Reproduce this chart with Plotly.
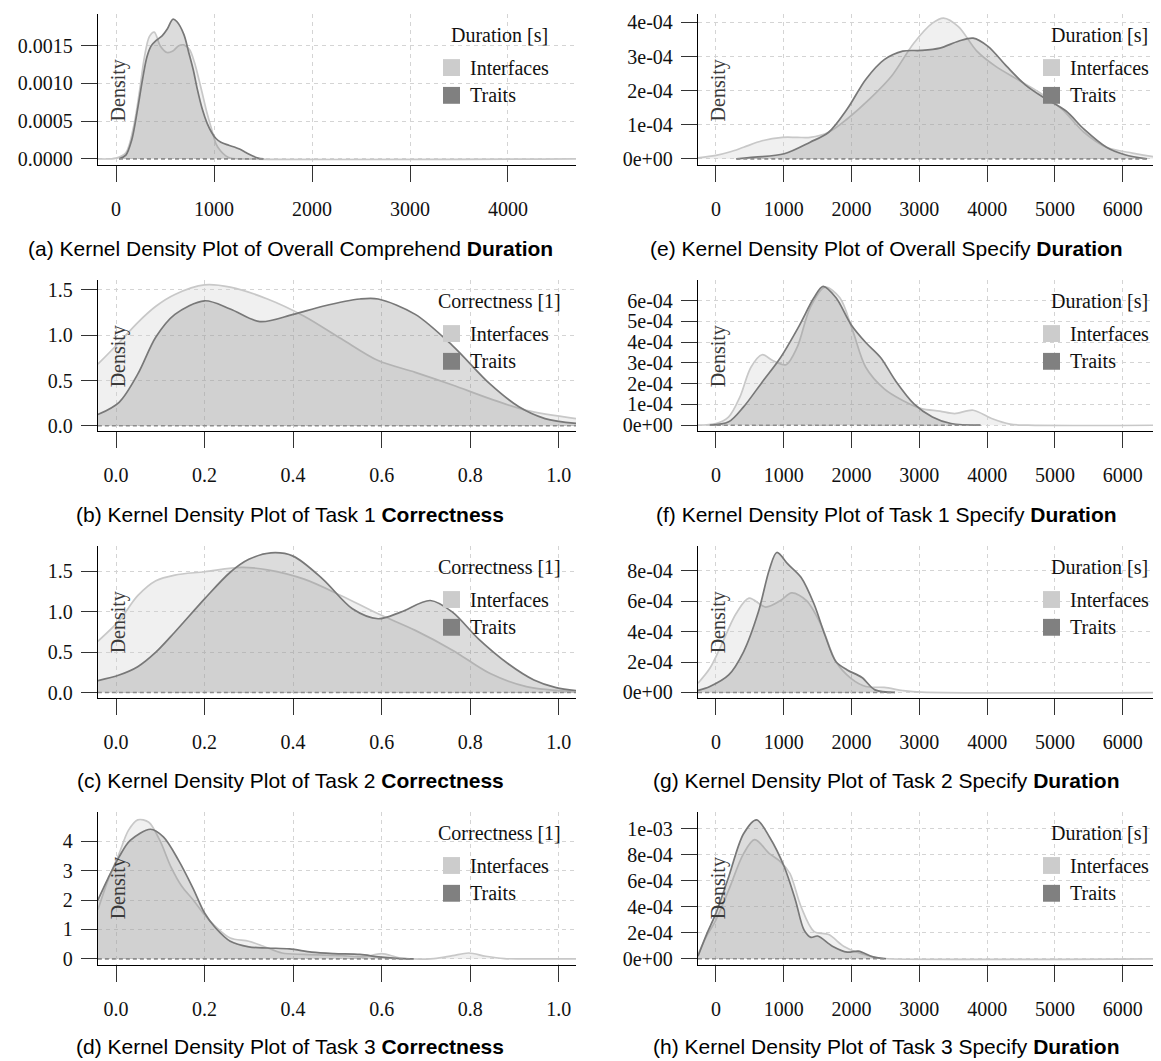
import plotly.graph_objects as go

W, H = 1161, 1061

# ---------------- data ----------------
# (a) Overall Comprehend Duration
a_int_x = [-184, 0, 100, 183, 240, 290, 340, 390, 450, 520, 580, 640, 692, 750, 800, 850, 880, 930, 976, 1020, 1070, 1120, 1165, 1250, 4694]
a_int_y = [0, 0.00001, 0.00008, 0.00045, 0.0009, 0.00135, 0.00162, 0.00168, 0.0015, 0.00141, 0.00143, 0.0015, 0.00151, 0.00145, 0.00128, 0.00103, 0.00087, 0.0006, 0.00039, 0.0002, 0.0001, 0.00004, 0.00001, 0, 0]
a_tra_x = [30, 100, 160, 220, 270, 315, 360, 410, 470, 523, 580, 620, 692, 740, 788, 830, 880, 930, 976, 1020, 1070, 1150, 1220, 1260, 1330, 1390, 1450, 1505]
a_tra_y = [0, 0.00005, 0.00025, 0.00066, 0.00105, 0.00135, 0.0015, 0.00157, 0.00163, 0.00172, 0.00185, 0.00182, 0.00165, 0.00142, 0.00118, 0.00092, 0.00066, 0.00047, 0.00035, 0.00027, 0.00022, 0.00018, 0.00015, 0.00013, 0.00008, 0.00004, 0.00001, 0]

# (b) Task 1 Correctness
b_int_x = [-0.041, 0.007, 0.049, 0.09, 0.133, 0.2, 0.258, 0.342, 0.425, 0.509, 0.592, 0.676, 0.76, 0.844, 0.927, 1.039]
b_int_y = [0.68, 0.92, 1.14, 1.32, 1.45, 1.555, 1.53, 1.40, 1.21, 0.96, 0.72, 0.59, 0.45, 0.30, 0.17, 0.08]
b_tra_x = [-0.041, 0.007, 0.049, 0.09, 0.133, 0.2, 0.258, 0.325, 0.4, 0.467, 0.551, 0.592, 0.676, 0.76, 0.844, 0.91, 0.969, 1.039]
b_tra_y = [0.124, 0.26, 0.57, 0.98, 1.23, 1.38, 1.29, 1.15, 1.23, 1.32, 1.40, 1.40, 1.23, 0.885, 0.465, 0.21, 0.08, 0.026]

# (c) Task 2 Correctness
c_int_x = [-0.041, 0.007, 0.049, 0.09, 0.133, 0.2, 0.283, 0.342, 0.425, 0.509, 0.592, 0.676, 0.76, 0.844, 0.927, 1.039]
c_int_y = [0.635, 0.89, 1.20, 1.385, 1.455, 1.496, 1.55, 1.52, 1.405, 1.20, 0.975, 0.77, 0.525, 0.238, 0.074, 0.012]
c_tra_x = [-0.041, 0.007, 0.049, 0.09, 0.133, 0.2, 0.258, 0.30, 0.35, 0.40, 0.467, 0.534, 0.592, 0.643, 0.71, 0.76, 0.818, 0.885, 0.944, 0.994, 1.039]
c_tra_y = [0.148, 0.217, 0.32, 0.50, 0.75, 1.16, 1.49, 1.65, 1.73, 1.69, 1.405, 1.037, 0.914, 0.996, 1.14, 0.996, 0.668, 0.36, 0.156, 0.061, 0.025]

# (d) Task 3 Correctness
d_int_x = [-0.041, -0.018, 0.007, 0.028, 0.049, 0.074, 0.099, 0.124, 0.149, 0.174, 0.2, 0.225, 0.258, 0.30, 0.333, 0.375, 0.425, 0.509, 0.559, 0.60, 0.643, 0.718, 0.76, 0.797, 0.835, 0.877, 0.92, 1.039]
d_int_y = [1.67, 2.68, 3.58, 4.37, 4.73, 4.65, 4.03, 3.13, 2.46, 2.01, 1.50, 1.10, 0.71, 0.60, 0.43, 0.20, 0.15, 0.11, 0.07, 0.18, 0.03, 0.01, 0.11, 0.20, 0.09, 0.01, 0, 0]
d_tra_x = [-0.041, -0.018, 0.007, 0.032, 0.078, 0.107, 0.141, 0.174, 0.2, 0.225, 0.258, 0.30, 0.342, 0.392, 0.442, 0.492, 0.551, 0.593, 0.634, 0.672]
d_tra_y = [2.0, 2.74, 3.47, 4.03, 4.41, 4.15, 3.36, 2.40, 1.56, 1.05, 0.60, 0.41, 0.37, 0.34, 0.23, 0.18, 0.15, 0.07, 0.02, 0]

# (e) Overall Specify Duration (density in 1e-4)
e_int_x = [-265, 0, 200, 407, 680, 980, 1200, 1389, 1662, 1935, 2264, 2591, 2920, 3192, 3357, 3575, 3848, 4121, 4448, 4777, 5103, 5428, 5760, 6142, 6519, 6667]
e_int_y = [0.03, 0.1, 0.2, 0.34, 0.53, 0.63, 0.63, 0.63, 0.78, 1.17, 1.75, 2.43, 3.4, 3.98, 4.13, 3.88, 3.16, 2.72, 2.33, 1.94, 1.46, 0.78, 0.34, 0.17, 0.05, 0.03]
e_tra_x = [300, 571, 1007, 1389, 1662, 1935, 2209, 2482, 2755, 3028, 3302, 3575, 3793, 4012, 4285, 4558, 4832, 5159, 5428, 5760, 6033, 6357]
e_tra_y = [0, 0.05, 0.15, 0.49, 0.78, 1.46, 2.33, 2.91, 3.16, 3.18, 3.25, 3.45, 3.54, 3.3, 2.72, 2.18, 1.8, 1.41, 0.87, 0.34, 0.12, 0]

# (f) Task 1 Specify Duration (1e-4)
f_int_x = [-265, 0, 188, 352, 516, 680, 843, 1033, 1196, 1389, 1608, 1827, 2018, 2209, 2482, 2755, 3028, 3302, 3520, 3793, 4066, 4336, 4600, 6667]
f_int_y = [0, 0.08, 0.4, 1.35, 2.79, 3.39, 3.1, 2.91, 3.74, 5.65, 6.64, 6.13, 4.54, 2.79, 1.75, 1.19, 0.8, 0.68, 0.56, 0.72, 0.32, 0.05, 0, 0]
f_tra_x = [-90, 188, 407, 680, 953, 1225, 1445, 1580, 1771, 1991, 2209, 2428, 2646, 2920, 3192, 3466, 3903]
f_tra_y = [0, 0.16, 0.88, 2.07, 3.26, 4.77, 6.13, 6.68, 6.13, 4.85, 3.98, 3.26, 2.15, 1.03, 0.4, 0.08, 0]

# (g) Task 2 Specify Duration (1e-4)
g_int_x = [-265, -90, 78, 295, 487, 734, 953, 1117, 1335, 1554, 1770, 1991, 2209, 2482, 2755, 3028, 6667]
g_int_y = [0.61, 1.59, 3.1, 5.17, 6.2, 5.61, 6.04, 6.54, 6.04, 4.41, 2.02, 0.93, 0.39, 0.33, 0.13, 0.02, 0]
g_tra_x = [-265, -90, 188, 407, 625, 789, 898, 1062, 1254, 1445, 1608, 1770, 1936, 2153, 2345, 2640]
g_tra_y = [0.13, 0.39, 1.15, 2.67, 5.28, 8.1, 9.2, 8.43, 7.57, 5.83, 3.76, 2.02, 1.48, 0.98, 0.17, 0]

# (h) Task 3 Specify Duration (1e-4)
h_int_x = [-265, -140, 0, 188, 407, 571, 789, 953, 1090, 1254, 1445, 1662, 1882, 2100, 2373, 2537, 6667]
h_int_y = [0.33, 1.73, 3.0, 5.29, 8.09, 9.16, 8.09, 7.46, 6.57, 4.02, 2.11, 1.86, 0.97, 0.46, 0.08, 0, 0]
h_tra_x = [-265, -140, 0, 188, 407, 598, 789, 1007, 1171, 1300, 1400, 1499, 1717, 1936, 2100, 2318, 2507]
h_tra_y = [0.2, 1.86, 3.51, 6.31, 9.62, 10.69, 9.37, 7.08, 4.53, 2.2, 1.65, 1.75, 0.97, 0.51, 0.59, 0.15, 0]

# tick labels
dur_left_ticks = [0, 1000, 2000, 3000, 4000]
dur_right_ticks = [0, 1000, 2000, 3000, 4000, 5000, 6000]
corr_ticks = [0.0, 0.2, 0.4, 0.6, 0.8, 1.0]
corr_ticktext = ["0.0", "0.2", "0.4", "0.6", "0.8", "1.0"]
a_yticks = [0, 0.0005, 0.0010, 0.0015]
a_yticktext = ["0.0000", "0.0005", "0.0010", "0.0015"]
bc_yticks = [0, 0.5, 1.0, 1.5]
bc_yticktext = ["0.0", "0.5", "1.0", "1.5"]
d_yticks = [0, 1, 2, 3, 4]
d_yticktext = ["0", "1", "2", "3", "4"]
e_yticks = [0, 1e-4, 2e-4, 3e-4, 4e-4]
e_yticktext = ["0e+00", "1e-04", "2e-04", "3e-04", "4e-04"]
f_yticks = [0, 1e-4, 2e-4, 3e-4, 4e-4, 5e-4, 6e-4]
f_yticktext = ["0e+00", "1e-04", "2e-04", "3e-04", "4e-04", "5e-04", "6e-04"]
g_yticks = [0, 2e-4, 4e-4, 6e-4, 8e-4]
g_yticktext = ["0e+00", "2e-04", "4e-04", "6e-04", "8e-04"]
h_yticks = [0, 2e-4, 4e-4, 6e-4, 8e-4, 1e-3]
h_yticktext = ["0e+00", "2e-04", "4e-04", "6e-04", "8e-04", "1e-03"]

series_names = ["Interfaces", "Traits"]
captions = [
    "(a) Kernel Density Plot of Overall Comprehend <b>Duration</b>",
    "(b) Kernel Density Plot of Task 1 <b>Correctness</b>",
    "(c) Kernel Density Plot of Task 2 <b>Correctness</b>",
    "(d) Kernel Density Plot of Task 3 <b>Correctness</b>",
    "(e) Kernel Density Plot of Overall Specify <b>Duration</b>",
    "(f) Kernel Density Plot of Task 1 Specify <b>Duration</b>",
    "(g) Kernel Density Plot of Task 2 Specify <b>Duration</b>",
    "(h) Kernel Density Plot of Task 3 Specify <b>Duration</b>",
]

E4 = 1e-4
panels = [
    dict(ix=a_int_x, iy=a_int_y, tx=a_tra_x, ty=a_tra_y, sc=1, col=0, row=0,
         xr=[-184, 4694], yr=[-0.000079, 0.00192], xt=dur_left_ticks, xtt=[str(v) for v in dur_left_ticks],
         yt=a_yticks, ytt=a_yticktext, leg="Duration [s]"),
    dict(ix=b_int_x, iy=b_int_y, tx=b_tra_x, ty=b_tra_y, sc=1, col=0, row=1,
         xr=[-0.0407, 1.039], yr=[-0.055, 1.61], xt=corr_ticks, xtt=corr_ticktext,
         yt=bc_yticks, ytt=bc_yticktext, leg="Correctness [1]"),
    dict(ix=c_int_x, iy=c_int_y, tx=c_tra_x, ty=c_tra_y, sc=1, col=0, row=2,
         xr=[-0.0407, 1.039], yr=[-0.065, 1.816], xt=corr_ticks, xtt=corr_ticktext,
         yt=bc_yticks, ytt=bc_yticktext, leg="Correctness [1]"),
    dict(ix=d_int_x, iy=d_int_y, tx=d_tra_x, ty=d_tra_y, sc=1, col=0, row=3,
         xr=[-0.0407, 1.039], yr=[-0.2, 5.0], xt=corr_ticks, xtt=corr_ticktext,
         yt=d_yticks, ytt=d_yticktext, leg="Correctness [1]"),
    dict(ix=e_int_x, iy=e_int_y, tx=e_tra_x, ty=e_tra_y, sc=E4, col=1, row=0,
         xr=[-265, 6667], yr=[-0.175e-4, 4.25e-4], xt=dur_right_ticks, xtt=[str(v) for v in dur_right_ticks],
         yt=e_yticks, ytt=e_yticktext, leg="Duration [s]"),
    dict(ix=f_int_x, iy=f_int_y, tx=f_tra_x, ty=f_tra_y, sc=E4, col=1, row=1,
         xr=[-265, 6667], yr=[-0.27e-4, 6.99e-4], xt=dur_right_ticks, xtt=[str(v) for v in dur_right_ticks],
         yt=f_yticks, ytt=f_yticktext, leg="Duration [s]"),
    dict(ix=g_int_x, iy=g_int_y, tx=g_tra_x, ty=g_tra_y, sc=E4, col=1, row=2,
         xr=[-265, 6667], yr=[-0.35e-4, 9.63e-4], xt=dur_right_ticks, xtt=[str(v) for v in dur_right_ticks],
         yt=g_yticks, ytt=g_yticktext, leg="Duration [s]"),
    dict(ix=h_int_x, iy=h_int_y, tx=h_tra_x, ty=h_tra_y, sc=E4, col=1, row=3,
         xr=[-265, 6667], yr=[-0.46e-4, 11.3e-4], xt=dur_right_ticks, xtt=[str(v) for v in dur_right_ticks],
         yt=h_yticks, ytt=h_yticktext, leg="Duration [s]"),
]

# ---------------- layout geometry (pixels) ----------------
COL_X = [(90, 568), (690, 1160)]
ROW_Y = [(4, 156), (272, 424), (540, 693), (808, 962)]
CAP_CX = [282, 878]
LEG_CX = [491, 1091]

SERIF = "Liberation Serif, Times New Roman, serif"
SANS = "Liberation Sans, Arial, sans-serif"

INT_LINE = "#c8c8c8"
TRA_LINE = "#787878"
INT_FILL = "rgba(204,204,204,0.30)"
TRA_FILL = "rgba(120,120,120,0.26)"
INT_KEY = "#cccccc"
TRA_KEY = "#808080"


def px(xp):
    return xp / W


def py(yp):
    return 1 - yp / H


fig = go.Figure()
layout_axes = {}
annotations = []
shapes = []

for i, p in enumerate(panels):
    k = i + 1
    xa = "x" if k == 1 else f"x{k}"
    ya = "y" if k == 1 else f"y{k}"
    x0, x1 = COL_X[p["col"]]
    y0, y1 = ROW_Y[p["row"]]
    sc = p["sc"]
    iy = [v * sc for v in p["iy"]]
    ty = [v * sc for v in p["ty"]]

    fig.add_trace(go.Scatter(
        x=p["ix"], y=iy, xaxis=xa, yaxis=ya, mode="lines", name=series_names[0],
        line=dict(color=INT_LINE, width=1.7, shape="spline", smoothing=0.9),
        fill="tozeroy", fillcolor=INT_FILL, showlegend=False, hoverinfo="skip"))
    fig.add_trace(go.Scatter(
        x=p["tx"], y=ty, xaxis=xa, yaxis=ya, mode="lines", name=series_names[1],
        line=dict(color=TRA_LINE, width=1.7, shape="spline", smoothing=0.9),
        fill="tozeroy", fillcolor=TRA_FILL, showlegend=False, hoverinfo="skip"))
    # dashed baseline of the Traits density over its support
    fig.add_trace(go.Scatter(
        x=[p["tx"][0], p["tx"][-1]], y=[0, 0], xaxis=xa, yaxis=ya, mode="lines",
        line=dict(color="#8c8c8c", width=1.6, dash="4px,3px"),
        showlegend=False, hoverinfo="skip"))

    common = dict(
        showline=True, linecolor="#000000", linewidth=1.4,
        ticks="outside", ticklen=16, tickwidth=1.4, tickcolor="#333333",
        showgrid=True, gridcolor="#d4d4d4", gridwidth=1, griddash="4px,4px",
        zeroline=False, tickfont=dict(family=SERIF, size=20, color="#111111"),
        fixedrange=True,
    )
    xkey = "xaxis" if k == 1 else f"xaxis{k}"
    ykey = "yaxis" if k == 1 else f"yaxis{k}"
    layout_axes[xkey] = dict(common, domain=[px(x0), px(x1)], anchor=ya, range=p["xr"],
                             tickmode="array", tickvals=p["xt"], ticktext=p["xtt"],
                             ticklabelstandoff=10)
    layout_axes[ykey] = dict(common, domain=[py(y1), py(y0)], anchor=xa, range=p["yr"],
                             tickmode="array", tickvals=p["yt"], ticktext=p["ytt"],
                             ticklabelstandoff=4)

    # "Density" label inside the panel
    annotations.append(dict(
        text="Density", xref="paper", yref="paper", x=px(x0 + 20), y=py(y0 + 77),
        xanchor="center", yanchor="middle", textangle=-90, showarrow=False,
        font=dict(family=SERIF, size=20, color="#3a3a3a")))

    # legend (title, keys, labels)
    cx = LEG_CX[p["col"]]
    annotations.append(dict(
        text=p["leg"], xref="paper", yref="paper", x=px(cx), y=py(y0 + 21),
        xanchor="center", yanchor="middle", showarrow=False,
        font=dict(family=SERIF, size=20, color="#111111")))
    for j, (nm, col) in enumerate(zip(series_names, [INT_KEY, TRA_KEY])):
        yc = y0 + 54 + 28 * j
        shapes.append(dict(type="rect", xref="paper", yref="paper",
                           x0=px(cx - 56), x1=px(cx - 39), y0=py(yc + 8.5), y1=py(yc - 8.5),
                           fillcolor=col, line=dict(width=0), layer="above"))
        annotations.append(dict(
            text=nm, xref="paper", yref="paper", x=px(cx - 31), y=py(yc),
            xanchor="left", yanchor="middle", showarrow=False,
            font=dict(family=SERIF, size=20, color="#111111")))

    # caption
    annotations.append(dict(
        text=captions[i], xref="paper", yref="paper", x=px(CAP_CX[p["col"]]),
        y=py(240 + 268 * p["row"]), xanchor="center", yanchor="middle", showarrow=False,
        font=dict(family=SANS, size=21, color="#000000")))

fig.update_layout(
    width=W, height=H, margin=dict(l=0, r=0, t=0, b=0),
    paper_bgcolor="white", plot_bgcolor="white",
    showlegend=False, annotations=annotations, shapes=shapes,
    **layout_axes,
)

fig.write_html("out.html")
